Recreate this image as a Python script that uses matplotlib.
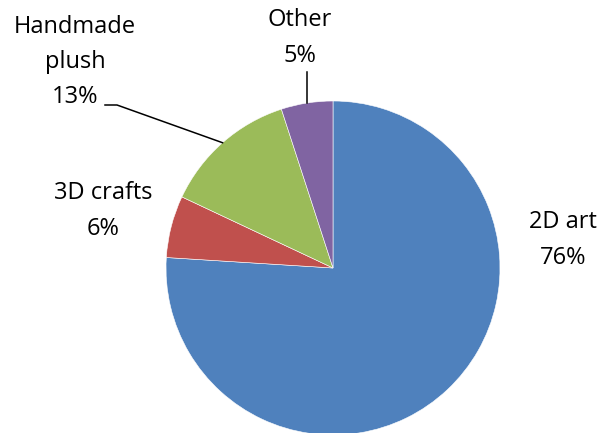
import numpy as np
import matplotlib.pyplot as plt

categories = ["2D art", "3D crafts", "Handmade\nplush", "Other"]
shares = [76, 6, 13, 5]
colors = ["#4F81BD", "#C0504D", "#9BBB59", "#8064A2"]

W, H = 610, 433
fig = plt.figure(figsize=(W / 100, H / 100), dpi=100)
ax = fig.add_axes([0, 0, 1, 1])

cx, cy, r = 333, H - 268, 167
wedges, _ = ax.pie(shares, colors=colors, startangle=90, counterclock=False,
                   center=(cx, cy), radius=r, frame=True,
                   wedgeprops=dict(edgecolor="white", linewidth=0.4))
ax.set_xlim(0, W)
ax.set_ylim(0, H)
ax.set_aspect("equal")
ax.axis("off")

def edge_point(w):
    ang = np.deg2rad((w.theta1 + w.theta2) / 2)
    return cx + r * np.cos(ang), cy + r * np.sin(ang)

font = dict(family="Open Sans", fontsize=17, color="black",
            ha="center", va="center", linespacing=1.62)

# label block centres in pixel space (y measured from the top)
label_pos = [(563, 240), (103, 211), (75, 62), (300, 38)]
for name, val, (lx, ly) in zip(categories, shares, label_pos):
    ax.text(lx, H - ly, f"{name}\n{val}%", **font)

# leader lines for the two small top slices
px, py = edge_point(wedges[2])
ax.plot([105, 117, px], [H - 105, H - 105, py], color="black", lw=1.1)
ox, oy = edge_point(wedges[3])
ax.plot([ox, ox], [H - 72, oy], color="black", lw=1.1)

fig.savefig("out.png", dpi=100)
